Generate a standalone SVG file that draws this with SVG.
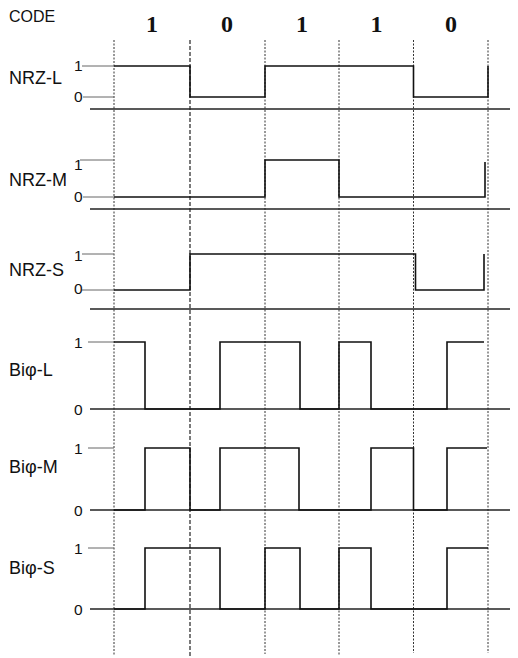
<svg xmlns="http://www.w3.org/2000/svg" width="518" height="658" viewBox="0 0 518 658">
<style>
.lbl{font-family:"Liberation Sans",Arial,sans-serif;font-size:18px;fill:#111}
.lvl{font-family:"Liberation Sans",Arial,sans-serif;font-size:15.5px;fill:#111;text-anchor:end}
.bit{font-family:"Liberation Serif","Times New Roman",serif;font-size:24px;font-weight:bold;fill:#111;text-anchor:middle}
.wave{fill:none;stroke:#111;stroke-width:1.6;stroke-linejoin:miter}
.sep{stroke:#222;stroke-width:1.5}
.lead{stroke:#666;stroke-width:1}
.grid{stroke:#333;stroke-width:1;stroke-dasharray:2,1.5}
.grid2{stroke:#222;stroke-width:1.2;stroke-dasharray:4,2}
</style>
<rect width="518" height="658" fill="#fff"/>
<g id="grid">
<line class="grid" x1="114" y1="40" x2="114" y2="656"/>
<line class="grid2" x1="190" y1="40" x2="190" y2="656"/>
<line class="grid" x1="265" y1="40" x2="265" y2="654"/>
<line class="grid" x1="339" y1="40" x2="339" y2="655"/>
<line class="grid" x1="413.5" y1="40" x2="413.5" y2="653"/>
<line class="grid" x1="488" y1="40" x2="488" y2="653"/>
</g>
<g id="header">
<text x="9" y="22" class="lbl" style="font-size:16px">CODE</text>
<text x="152" y="32" class="bit">1</text>
<text x="227" y="32" class="bit">0</text>
<text x="302" y="32" class="bit">1</text>
<text x="376.5" y="32" class="bit">1</text>
<text x="451" y="32" class="bit">0</text>
</g>
<g id="nrz-l">
<text x="9" y="84" class="lbl">NRZ-L</text>
<text x="82.5" y="71" class="lvl">1</text>
<text x="82.5" y="102" class="lvl">0</text>
<line class="lead" x1="82" y1="66" x2="114" y2="66"/>
<line class="lead" x1="83" y1="97" x2="114" y2="97"/>
<path class="wave" d="M114,66 H190 V97 H265 V66 H413.5 V97 H488 V66"/>
<line class="sep" x1="90" y1="109" x2="510" y2="109"/>
</g>
<g id="nrz-m">
<text x="9" y="186" class="lbl">NRZ-M</text>
<text x="82.5" y="170" class="lvl">1</text>
<text x="82.5" y="202" class="lvl">0</text>
<line class="lead" x1="80" y1="160" x2="114" y2="160"/>
<line class="lead" x1="83" y1="197" x2="114" y2="197"/>
<path class="wave" d="M114,197 H265 V160 H339 V197 H485 V162"/>
<line class="sep" x1="90" y1="209" x2="510" y2="209"/>
</g>
<g id="nrz-s">
<text x="9" y="276" class="lbl">NRZ-S</text>
<text x="82.5" y="261" class="lvl">1</text>
<text x="82.5" y="294" class="lvl">0</text>
<line class="lead" x1="82" y1="254" x2="114" y2="254"/>
<line class="lead" x1="82" y1="290" x2="114" y2="290"/>
<path class="wave" d="M114,290 H190 V254 H415.5 V290 H484 V254"/>
<line class="sep" x1="90" y1="309" x2="510" y2="309"/>
</g>
<g id="biphi-l">
<text x="9" y="376" class="lbl">Biφ-L</text>
<text x="82.5" y="348" class="lvl">1</text>
<text x="82.5" y="415" class="lvl">0</text>
<line class="lead" x1="88" y1="342" x2="114" y2="342"/>
<line class="sep" x1="90" y1="409" x2="510" y2="409"/>
<path class="wave" d="M114,342 H145 V409 H220 V342 H300 V409 H339 V342 H371 V409 H447 V342 H484"/>
</g>
<g id="biphi-m">
<text x="9" y="473" class="lbl">Biφ-M</text>
<text x="82.5" y="454" class="lvl">1</text>
<text x="82.5" y="516" class="lvl">0</text>
<line class="lead" x1="88" y1="448" x2="114" y2="448"/>
<line class="sep" x1="90" y1="510" x2="510" y2="510"/>
<path class="wave" d="M114,510 H145 V448 H190 V510 H220 V448 H299 V510 H371 V448 H413.5 V510 H447 V448 H487"/>
</g>
<g id="biphi-s">
<text x="9" y="574" class="lbl">Biφ-S</text>
<text x="82.5" y="554" class="lvl">1</text>
<text x="82.5" y="615" class="lvl">0</text>
<line class="lead" x1="88" y1="548" x2="114" y2="548"/>
<line class="sep" x1="90" y1="609" x2="510" y2="609"/>
<path class="wave" d="M114,609 H145 V548 H220 V609 H265 V548 H300 V609 H339 V548 H371 V609 H447 V548 H488"/>
</g>
</svg>
